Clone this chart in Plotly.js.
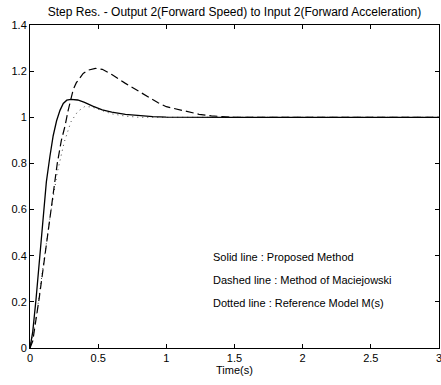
<!DOCTYPE html>
<html>
<head>
<meta charset="utf-8">
<script src="https://cdn.plot.ly/plotly-3.0.1.min.js"></script>
<style>html,body{margin:0;padding:0;background:#fff}#chart{width:441px;height:385px}</style>
</head>
<body>
<div id="chart"></div>
<script>
// Proposed method (solid)
const tSolid = [0, 0.02, 0.044, 0.073, 0.098, 0.12, 0.146, 0.17, 0.195, 0.22, 0.244, 0.27, 0.3, 0.35, 0.4, 0.46, 0.53, 0.6, 0.7, 0.8, 0.9, 1.0, 1.2, 1.5, 3];
const ySolid = [0, 0.07, 0.21, 0.40, 0.59, 0.72, 0.83, 0.92, 0.985, 1.03, 1.06, 1.074, 1.078, 1.075, 1.065, 1.048, 1.032, 1.022, 1.013, 1.007, 1.003, 1.001, 1.0, 1.0, 1.0];
// Method of Maciejowski (dashed)
const tDashed = [0, 0.02, 0.066, 0.11, 0.154, 0.2, 0.23, 0.256, 0.28, 0.317, 0.34, 0.39, 0.43, 0.48, 0.53, 0.6, 0.7, 0.82, 0.94, 1.0, 1.12, 1.24, 1.33, 1.42, 1.5, 3];
const yDashed = [0, 0.03, 0.21, 0.40, 0.60, 0.80, 0.90, 0.96, 1.03, 1.12, 1.15, 1.19, 1.205, 1.212, 1.208, 1.185, 1.147, 1.104, 1.063, 1.046, 1.029, 1.013, 1.006, 1.002, 1.0, 1.0];
// Reference model M(s) (dotted)
const tDotted = [0, 0.05, 0.1, 0.15, 0.2, 0.25, 0.3, 0.35, 0.4, 0.45, 0.5, 0.6, 0.7, 0.8, 1.0, 3];
const yDotted = [0, 0.15, 0.37, 0.58, 0.76, 0.89, 0.98, 1.025, 1.046, 1.045, 1.035, 1.015, 1.005, 1.0, 1.0, 1.0];

const xTicks = [0, 0.5, 1, 1.5, 2, 2.5, 3];
const xTickText = ["0", "0.5", "1", "1.5", "2", "2.5", "3"];
const yTicks = [0, 0.2, 0.4, 0.6, 0.8, 1, 1.2, 1.4];
const yTickText = ["0", "0.2", "0.4", "0.6", "0.8", "1", "1.2", "1.4"];

const titleText = "Step Res. - Output 2(Forward Speed) to Input 2(Forward Acceleration)";
const xTitle = "Time(s)";
const noteText = ["Solid line : Proposed Method", "Dashed line : Method of Maciejowski", "Dotted line : Reference Model M(s)"];
const noteY = [0.394, 0.293, 0.197];
const noteX = 1.33;

const FONT = "Liberation Sans, Arial, sans-serif";

const traces = [
  {x: tDotted, y: yDotted, mode: "lines", line: {color: "#444", width: 1, dash: "1px,4px"}, hoverinfo: "skip"},
  {x: tDashed, y: yDashed, mode: "lines", line: {color: "#000", width: 1.2, dash: "8px,4px"}, hoverinfo: "skip"},
  {x: tSolid, y: ySolid, mode: "lines", line: {color: "#000", width: 1.3}, hoverinfo: "skip"}
];

const annotations = noteText.map((t, i) => ({
  x: noteX, y: noteY[i], xref: "x", yref: "y", text: t, showarrow: false,
  xanchor: "left", yanchor: "middle", font: {family: FONT, size: 11, color: "#000"}
}));

const layout = {
  width: 441, height: 385,
  margin: {l: 30, r: 2, t: 25, b: 37},
  paper_bgcolor: "#fff", plot_bgcolor: "#fff",
  showlegend: false,
  font: {family: FONT, size: 11, color: "#000"},
  title: {text: titleText, x: 0.5, xref: "paper", y: 1 - 12/385, yref: "container", yanchor: "middle",
          font: {family: FONT, size: 12, color: "#000"}},
  xaxis: {range: [0, 3], tickvals: xTicks, ticktext: xTickText, ticks: "inside", ticklen: 4, tickcolor: "#000",
          showline: true, linecolor: "#000", linewidth: 1, mirror: "ticks", showgrid: false, zeroline: false,
          ticklabeloverflow: "allow",
          tickfont: {family: FONT, size: 11, color: "#000"},
          title: {text: xTitle, font: {family: FONT, size: 11, color: "#000"}, standoff: 3}},
  yaxis: {range: [0, 1.4], tickvals: yTicks, ticktext: yTickText, ticks: "inside", ticklen: 4, tickcolor: "#000",
          showline: true, linecolor: "#000", linewidth: 1, mirror: "ticks", showgrid: false, zeroline: false,
          tickfont: {family: FONT, size: 11, color: "#000"}},
  annotations: annotations
};

Plotly.newPlot("chart", traces, layout, {staticPlot: true, displayModeBar: false});
</script>
</body>
</html>
